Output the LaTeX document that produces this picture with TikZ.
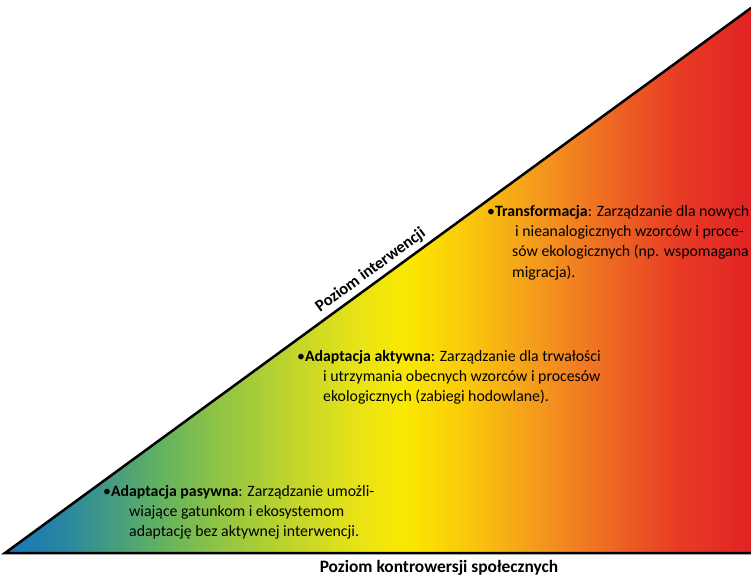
\documentclass[tikz,border=0pt]{standalone}
\usepackage{fontspec}
\setmainfont{Carlito}
\definecolor{gA}{RGB}{25,115,188}
\definecolor{gB}{RGB}{40,135,160}
\definecolor{gC}{RGB}{95,175,100}
\definecolor{gD}{RGB}{140,195,70}
\definecolor{gE}{RGB}{190,212,45}
\definecolor{gF}{RGB}{235,228,20}
\definecolor{gG}{RGB}{250,232,0}
\definecolor{gH}{RGB}{250,200,10}
\definecolor{gI}{RGB}{244,150,30}
\definecolor{gJ}{RGB}{237,100,35}
\definecolor{gK}{RGB}{232,60,36}
\definecolor{gL}{RGB}{226,35,36}
\pgfdeclarehorizontalshading{poziomgrad}{100bp}{color(0bp)=(gA); color(25bp)=(gA);
  color(29bp)=(gB); color(35bp)=(gC); color(39bp)=(gD); color(44bp)=(gE);
  color(49bp)=(gF); color(52bp)=(gG); color(56bp)=(gH); color(61bp)=(gI);
  color(66bp)=(gJ); color(70bp)=(gK); color(75bp)=(gL); color(100bp)=(gL)}
\begin{document}
\begin{tikzpicture}[x=1pt,y=1pt]
\tikzset{opis/.style={anchor=north west,inner sep=0,align=left,font=\fontsize{15.8}{20.3}\selectfont},
         osie/.style={font=\fontsize{17.4}{19}\selectfont\bfseries}}
    \useasboundingbox (0,0) rectangle (751,579);
    \coordinate (lewy) at (5,26);
    \coordinate (prawy) at (751,26);
    \coordinate (szczyt) at (751,571);
    \shade[shading=poziomgrad] (lewy) -- (prawy) -- (szczyt) -- cycle;
    \draw[line width=2.5pt,line cap=round] (prawy) -- (lewy) -- (szczyt)
        node[midway,sloped,above,inner sep=4pt,font=\fontsize{16.6}{18}\selectfont\bfseries] (interw) {Poziom interwencji};

    \node[osie] (kontr) at (439,11) {Poziom kontrowersji społecznych};

    \node[opis] (transf) at (487,374) {•\textbf{Transformacja}: Zarządzanie dla nowych\\
        \hspace*{28pt}i nieanalogicznych wzorców i proce-\\
        \hspace*{25pt}sów ekologicznych (np. wspomagana\\
        \hspace*{25pt}migracja).};
    \node[opis] (aktyw) at (297,229) {•\textbf{Adaptacja aktywna}: Zarządzanie dla trwałości\\
        \hspace*{26pt}i utrzymania obecnych wzorców i procesów\\
        \hspace*{26pt}ekologicznych (zabiegi hodowlane).};
    \node[opis] (pasyw) at (103,94) {•\textbf{Adaptacja pasywna}: Zarządzanie umożli-\\
        \hspace*{26pt}wiające gatunkom i ekosystemom\\
        \hspace*{26pt}adaptację bez aktywnej interwencji.};
\end{tikzpicture}
\end{document}
